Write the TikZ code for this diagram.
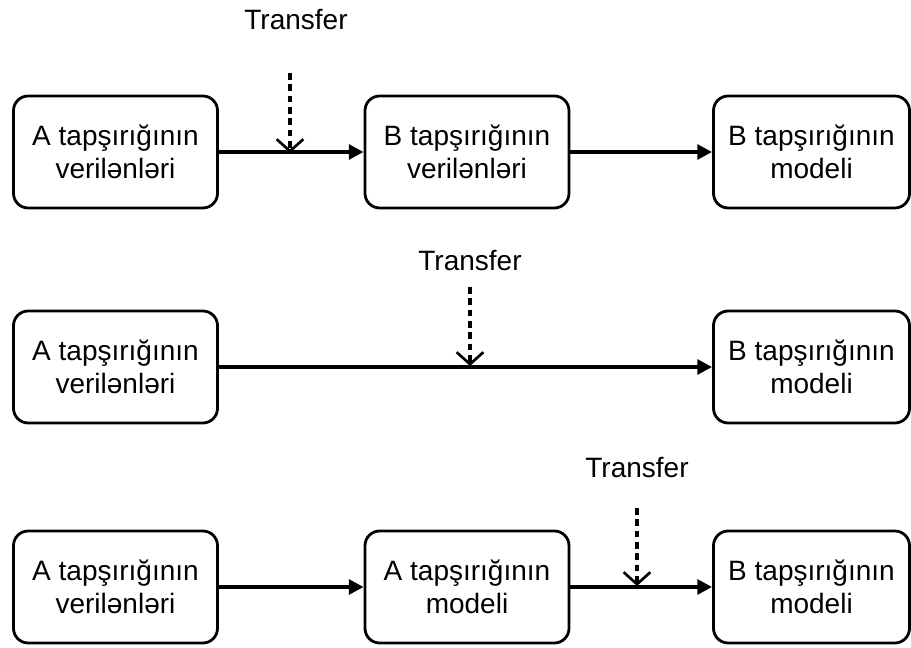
\documentclass[tikz,border=0pt]{standalone}
\usepackage{fontspec}
\setmainfont{Liberation Sans}
\usetikzlibrary{arrows.meta}

\tikzset{
  taskbox/.style={draw=black, line width=2.1pt, rounded corners=11pt,
    minimum height=84pt, minimum width=153pt, align=center,
    font=\fontsize{21}{25}\selectfont, inner sep=0pt},
  flow/.style={line width=2.6pt, -{Triangle[length=11pt,width=11pt]}},
  transfer/.style={line width=2.6pt, dash pattern=on 5pt off 3.5pt,
    -{Straight Barb[length=9pt,width=20pt,line width=2pt]}},
  translabel/.style={font=\fontsize{21}{25}\selectfont, inner sep=0pt}
}

\begin{document}
\begin{tikzpicture}[x=0.75pt, y=-0.75pt]
  \useasboundingbox (0,0) rectangle (911,648);

  % first row: source data -> target data -> target model
  \node[taskbox] (a1) at (115.5,152) {A tapşırığının\\verilənləri};
  \node[taskbox] (b1) at (467,152) {B tapşırığının\\verilənləri};
  \node[taskbox, minimum width=147pt] (c1) at (811.5,152) {B tapşırığının\\modeli};
  \draw[flow] (a1) -- (b1);
  \draw[flow] (b1) -- (c1);
  \node[translabel] (tr1) at (296,20) {Transfer};
  \coordinate (d1s) at (290,73);
  \coordinate (d1e) at (290,153);
  \draw[transfer] (d1s) -- (d1e);

  % second row: source data -> target model
  \node[taskbox] (a2) at (115.5,367) {A tapşırığının\\verilənləri};
  \node[taskbox, minimum width=147pt] (c2) at (811.5,367) {B tapşırığının\\modeli};
  \draw[flow] (a2) -- (c2);
  \node[translabel] (tr2) at (470,261) {Transfer};
  \coordinate (d2s) at (470,287);
  \coordinate (d2e) at (470,366);
  \draw[transfer] (d2s) -- (d2e);

  % third row: source data -> source model -> target model
  \node[taskbox] (a3) at (115.5,587) {A tapşırığının\\verilənləri};
  \node[taskbox] (b3) at (467,587) {A tapşırığının\\modeli};
  \node[taskbox, minimum width=147pt] (c3) at (811.5,587) {B tapşırığının\\modeli};
  \draw[flow] (a3) -- (b3);
  \draw[flow] (b3) -- (c3);
  \node[translabel] (tr3) at (637,468) {Transfer};
  \coordinate (d3s) at (637,508);
  \coordinate (d3e) at (637,586);
  \draw[transfer] (d3s) -- (d3e);
\end{tikzpicture}
\end{document}
